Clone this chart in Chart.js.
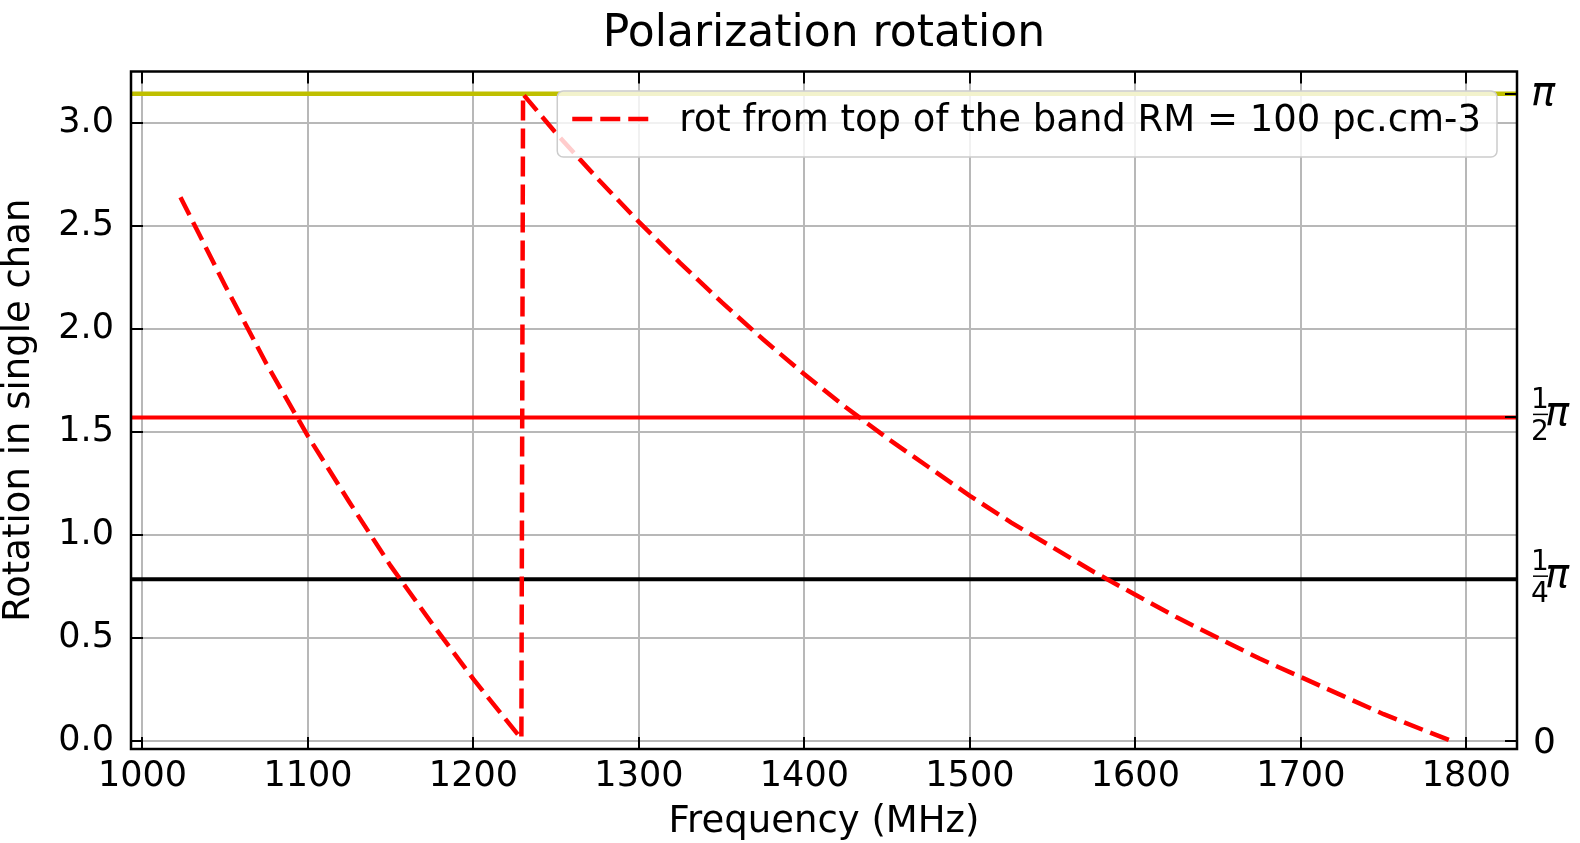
<!DOCTYPE html>
<html><head><meta charset="utf-8">
<script src="https://cdn.jsdelivr.net/npm/chart.js@4/dist/chart.umd.min.js"></script>
<style>html,body{margin:0;padding:0;background:#fff}#wrap{width:1580px;height:843px;position:relative}</style>
</head><body><div id="wrap"><canvas id="c" width="1580" height="843"></canvas></div>
<script>
// ---- data ----
const chartTitle = 'Polarization rotation';
const xLabel = 'Frequency (MHz)';
const yLabel = 'Rotation in single chan';
const seriesLabel = 'rot from top of the band RM = 100 pc.cm-3';
const freqMHz  = [1023,1050,1075,1100,1125,1150,1175,1200,1229,1230,1250,1275,1300,1325,1350,1375,1400,1425,1450,1475,1500,1525,1550,1575,1600,1625,1650,1675,1700,1725,1750,1775,1791];
const rotation = [2.64,2.21,1.83,1.48,1.16,0.85,0.57,0.30,0.01,3.14,2.95,2.73,2.52,2.32,2.13,1.95,1.78,1.62,1.47,1.33,1.19,1.06,0.94,0.82,0.71,0.60,0.50,0.40,0.31,0.22,0.13,0.05,0.00];
const refLevels = [3.1416, 1.5708, 0.7854];           // pi, pi/2, pi/4
const refColors = ['#bfbf00', '#ff0000', '#000000'];
const xTicks = [1000,1100,1200,1300,1400,1500,1600,1700,1800];
const yTicks = [0,0.5,1.0,1.5,2.0,2.5,3.0];
const rightTickValues = [0, 0.7854, 1.5708, 3.1416];
const rightTickLabels = [{t:'0'}, {num:'1', den:'4', t:'π'}, {num:'1', den:'2', t:'π'}, {t:'π'}];
const xRange = [993.1, 1830.6];
const yRange = [-0.039, 3.25];

const FAM = '"DejaVu Sans", "Liberation Sans", sans-serif';

const datasets = [{
  label: seriesLabel,
  data: freqMHz.map((f, i) => ({x: f, y: rotation[i]})),
  borderColor: '#ff0000', borderWidth: 4.5, borderDash: [20, 8], borderCapStyle: 'butt',
  pointRadius: 0, showLine: true, tension: 0, fill: false
}];
// horizontal reference lines, drawn beneath the dashed curve
[2, 1, 0].forEach(i => datasets.push({
  label: '',
  data: [{x: xRange[0], y: refLevels[i]}, {x: xRange[1], y: refLevels[i]}],
  borderColor: refColors[i], borderWidth: i === 0 ? 4.5 : 4,
  pointRadius: 0, showLine: true, fill: false
}));

function line(ctx, x1, y1, x2, y2) { ctx.beginPath(); ctx.moveTo(x1, y1); ctx.lineTo(x2, y2); ctx.stroke(); }

const decor = {
  id: 'decor',
  afterDraw(chart) {
    const ctx = chart.ctx, a = chart.chartArea;
    const sx = chart.scales.x, sy = chart.scales.y, sy2 = chart.scales.y2;
    ctx.save();
    // inward ticks
    ctx.strokeStyle = '#000'; ctx.lineWidth = 2;
    const TL = 12;
    xTicks.forEach(v => { const p = Math.round(sx.getPixelForValue(v)); line(ctx, p, a.bottom, p, a.bottom - TL); line(ctx, p, a.top, p, a.top + TL); });
    yTicks.forEach(v => { const p = Math.round(sy.getPixelForValue(v)); line(ctx, a.left, p, a.left + TL, p); });
    rightTickValues.forEach(v => { const p = Math.round(sy2.getPixelForValue(v)); line(ctx, a.right, p, a.right - TL, p); });
    // frame
    ctx.lineWidth = 2.5;
    ctx.strokeRect(a.left, a.top, a.right - a.left, a.bottom - a.top);
    // right axis labels
    ctx.fillStyle = '#000';
    ctx.textAlign = 'left'; ctx.textBaseline = 'alphabetic';
    const x0 = a.right + 16;
    const piFont = 'italic 40px "DejaVu Sans", sans-serif';
    rightTickValues.forEach((v, i) => {
      const p = sy2.getPixelForValue(v);
      const L = rightTickLabels[i];
      if (L.num) {
        ctx.font = '28px ' + FAM;
        ctx.textAlign = 'center';
        ctx.fillText(L.num, x0 + 7, p - 9);
        ctx.fillText(L.den, x0 + 7, p + 23);
        ctx.lineWidth = 1.5;
        line(ctx, x0, p - 3, x0 + 15, p - 3);
        ctx.textAlign = 'left';
        ctx.font = piFont;
        ctx.fillText(L.t, x0 + 12, p + 8);
      } else if (L.t === 'π') {
        ctx.font = piFont;
        ctx.fillText(L.t, x0 - 2, p + 11);
      } else {
        ctx.font = '36px ' + FAM;
        ctx.fillText(L.t, x0, p + 12);
      }
    });
    // title
    ctx.font = '44px ' + FAM;
    ctx.textAlign = 'center'; ctx.textBaseline = 'alphabetic';
    ctx.fillText(chartTitle, (a.left + a.right) / 2, 46);
    // legend (inside, upper right)
    const ds = chart.data.datasets[0];
    ctx.font = '37px ' + FAM;
    const tw = ctx.measureText(ds.label).width;
    const boxR = a.right - 20, boxT = a.top + 19.5, boxB = a.top + 85.5;
    const textR = boxR - 16, textL = textR - tw;
    const sR = textL - 31, sL = sR - 76, boxL = sL - 15;
    const midY = (boxT + boxB) / 2;
    ctx.beginPath();
    ctx.roundRect(boxL, boxT, boxR - boxL, boxB - boxT, 6);
    ctx.fillStyle = 'rgba(255,255,255,0.8)'; ctx.fill();
    ctx.strokeStyle = '#cccccc'; ctx.lineWidth = 1.5; ctx.stroke();
    ctx.strokeStyle = ds.borderColor; ctx.lineWidth = ds.borderWidth; ctx.setLineDash(ds.borderDash); ctx.lineCap = 'butt';
    line(ctx, sL, midY - 5, sR, midY - 5);
    ctx.setLineDash([]);
    ctx.fillStyle = '#000'; ctx.textAlign = 'left';
    ctx.fillText(ds.label, textL, a.top + 59.5);
    ctx.restore();
  }
};

new Chart(document.getElementById('c'), {
  type: 'scatter',
  data: { datasets },
  options: {
    responsive: false, animation: false, devicePixelRatio: 1,
    layout: { padding: { top: 71.5, left: 0, right: 0, bottom: 0 } },
    plugins: { legend: { display: false }, title: { display: false }, tooltip: { enabled: false } },
    scales: {
      x: {
        type: 'linear', position: 'bottom', min: xRange[0], max: xRange[1], z: 1,
        afterBuildTicks: s => { s.ticks = xTicks.map(v => ({value: v})); },
        afterFit: s => { s.height = 94; },
        grid: { color: '#b8b8b8', lineWidth: 2, drawTicks: false },
        border: { display: false },
        ticks: { font: { family: FAM, size: 35 }, color: '#000', padding: 7, maxRotation: 0, autoSkip: false, callback: v => String(v) },
        title: { display: true, text: xLabel, color: '#000', font: { family: FAM, size: 37, lineHeight: 1 }, padding: { top: 0, bottom: 2 } }
      },
      y: {
        type: 'linear', position: 'left', min: yRange[0], max: yRange[1], z: 1,
        afterBuildTicks: s => { s.ticks = yTicks.map(v => ({value: v})); },
        afterFit: s => { s.width = 131; },
        grid: { color: '#b8b8b8', lineWidth: 2, drawTicks: false },
        border: { display: false },
        ticks: { font: { family: FAM, size: 35 }, color: '#000', padding: 17, autoSkip: false, callback: v => Number(v).toFixed(1) },
        title: { display: true, text: yLabel, color: '#000', font: { family: FAM, size: 37, lineHeight: 1 }, padding: { top: 1, bottom: 0 } }
      },
      y2: {
        type: 'linear', position: 'right', min: yRange[0], max: yRange[1],
        afterBuildTicks: s => { s.ticks = rightTickValues.map(v => ({value: v})); },
        afterFit: s => { s.width = 63; },
        grid: { display: false, drawTicks: false },
        border: { display: false },
        ticks: { display: false }
      }
    }
  },
  plugins: [decor]
});
</script>
</body></html>
